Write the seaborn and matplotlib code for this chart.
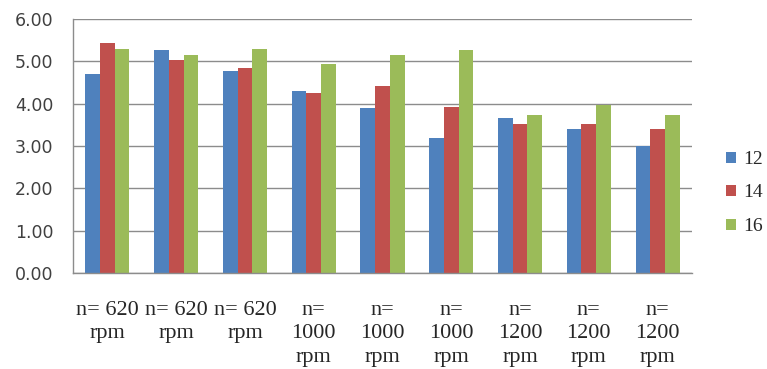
import matplotlib
matplotlib.use("Agg")
import matplotlib.pyplot as plt
import seaborn as sns
import pandas as pd

# Operating conditions (spindle speed) on the category axis
conditions = ["n= 620\nrpm", "n= 620\nrpm", "n= 620\nrpm",
              "n=\n1000\nrpm", "n=\n1000\nrpm", "n=\n1000\nrpm",
              "n=\n1200\nrpm", "n=\n1200\nrpm", "n=\n1200\nrpm"]

# Series values
series_names = ["12", "14", "16"]
values_12 = [4.69, 5.27, 4.78, 4.30, 3.90, 3.20, 3.66, 3.39, 3.00]
values_14 = [5.43, 5.02, 4.84, 4.26, 4.42, 3.93, 3.51, 3.51, 3.39]
values_16 = [5.29, 5.14, 5.29, 4.93, 5.14, 5.27, 3.74, 3.98, 3.74]

y_ticks = [0, 1, 2, 3, 4, 5, 6]
y_tick_labels = [f"{v:.2f}" for v in y_ticks]

colors = ["#4F81BD", "#C0504D", "#9BBB59"]
grid_color = "#8C8C8C"

rows = []
for name, vals in zip(series_names, [values_12, values_14, values_16]):
    for i, v in enumerate(vals):
        rows.append({"pos": i, "series": name, "value": v})
df = pd.DataFrame(rows)

sns.set_theme(style="white")
plt.rcParams["font.family"] = ["DejaVu Sans"]

fig = plt.figure(figsize=(7.67, 3.69), dpi=100)
ax = fig.add_axes([73 / 767, 96 / 369, (692 - 73) / 767, (273 - 19) / 369])

sns.barplot(data=df, x="pos", y="value", hue="series", hue_order=series_names,
            order=list(range(len(conditions))), palette=colors, width=0.64,
            gap=0, saturation=1, linewidth=0, errorbar=None, ax=ax)

ax.set_ylim(0, 6)
ax.set_yticks(y_ticks)
ax.set_yticklabels(y_tick_labels, fontsize=12.5, color="#404040",
                   family="DejaVu Sans")
ax.set_xticks(range(len(conditions)))
ax.set_xticklabels(conditions, fontsize=16, family="Liberation Serif",
                   color="#262626", linespacing=1.33, va="top",
                   ha="center", multialignment="center")
ax.tick_params(axis="y", length=0, pad=14)
ax.tick_params(axis="x", length=0, pad=20)
ax.set_xlabel("")
ax.set_ylabel("")

ax.yaxis.grid(True, color=grid_color, linewidth=1.0)
ax.set_axisbelow(True)
for side in ["top", "right"]:
    ax.spines[side].set_visible(False)
for side in ["left", "bottom"]:
    ax.spines[side].set_color(grid_color)
    ax.spines[side].set_linewidth(1.0)

leg = ax.legend(loc="center left", bbox_to_anchor=(726 / 767, 176 / 369),
                bbox_transform=fig.transFigure, frameon=False,
                handlelength=0.5, handleheight=0.5, handletextpad=0.4,
                labelspacing=0.85, borderaxespad=0, borderpad=0,
                prop={"family": "Liberation Serif", "size": 14})
for t in leg.get_texts():
    t.set_color("#262626")

fig.savefig("out.png", dpi=100)
